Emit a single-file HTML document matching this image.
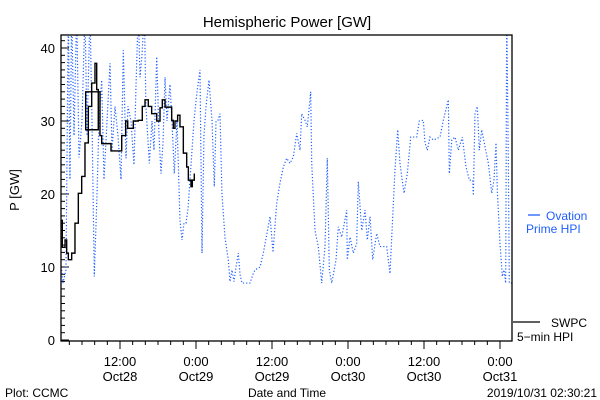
<!DOCTYPE html>
<html><head><meta charset="utf-8"><style>
body{margin:0;background:#fff;}
svg{display:block;font-family:"Liberation Sans",sans-serif;}
</style></head><body>
<svg id="chart" width="600" height="400" viewBox="0 0 600 400">
<rect x="0" y="0" width="600" height="400" fill="#fff"/>
<text x="287" y="27" font-size="15" text-anchor="middle">Hemispheric Power [GW]</text>
<text transform="translate(19,190) rotate(-90)" font-size="13" text-anchor="middle">P [GW]</text>
<text x="5" y="397" font-size="12">Plot: CCMC</text>
<text x="287" y="397" font-size="12" text-anchor="middle">Date and Time</text>
<text x="597" y="397" font-size="12" text-anchor="end">2019/10/31 02:30:21</text>
<defs><clipPath id="pc"><rect x="61" y="35" width="451" height="306"/></clipPath></defs>
<g id="axes"></g>
<g id="series" clip-path="url(#pc)"></g>
<rect x="61" y="35" width="451" height="306" fill="none" stroke="#000" stroke-width="1.3"/>
<g>
<line x1="528" y1="215" x2="540" y2="215" stroke="#2060ff" stroke-width="1.3"/>
<text x="546" y="220" font-size="12" fill="#2060ff">Ovation</text>
<text x="526" y="233" font-size="12" fill="#2060ff">Prime HPI</text>
</g>
<g>
<line x1="513" y1="322" x2="540" y2="322" stroke="#000" stroke-width="1.3"/>
<text x="551" y="327" font-size="12">SWPC</text>
<text x="517" y="341" font-size="12">5−min HPI</text>
</g>
</svg>
<script>
const yTicks=[0,10,20,30,40];
const xTickHours=[12,24,36,48,60,72];
const xTickTimes=["12:00","0:00","12:00","0:00","12:00","0:00"];
const xTickDates=["Oct28","Oct29","Oct29","Oct30","Oct30","Oct31"];
const ovationHours=[2.79,3.0,3.47,3.84,4.1,4.37,4.74,5.16,5.53,6.0,6.47,6.79,7.26,7.58,7.94,8.37,8.68,9.11,9.47,9.95,10.42,10.74,11.21,11.68,12.16,12.52,12.95,13.26,13.74,14.21,14.53,14.89,15.16,15.47,15.84,16.1,16.63,17.05,17.37,17.8,18.16,18.47,18.79,19.11,19.42,19.89,20.21,20.57,21.0,21.47,21.79,22.1,22.42,22.74,23.05,23.37,23.68,24.16,24.63,24.95,25.26,25.58,26.05,26.53,26.89,27.16,27.47,27.79,28.1,28.58,29.1,29.37,29.68,30.0,30.32,30.68,30.95,31.26,31.74,32.53,33.0,33.32,34.11,34.63,35.69,36.16,36.74,37.26,37.79,38.32,38.84,39.37,39.9,40.42,40.69,41.21,41.58,42.11,42.27,42.79,43.31,43.85,44.37,44.73,45.05,45.43,46.11,46.47,47.01,47.8,47.89,48.32,48.84,49.37,49.63,50.17,50.69,51.05,51.48,51.9,52.53,53.05,54.11,54.63,55.06,55.42,55.85,56.21,56.84,57.37,57.9,58.85,59.26,59.89,60.16,60.52,60.95,61.47,62.53,63.05,63.84,64.0,64.38,64.9,65.42,66.05,66.63,67.16,67.69,67.79,68.05,68.42,68.73,69.11,69.63,70.16,70.69,71.05,71.37,71.58,72.0,72.37,72.63,72.9,73.06,73.32,73.47,73.9];
const ovationValues=[9.6,7.8,9.6,45,22,45,28,45,25,30,45,28,45,30,8.7,20,30,35.6,22,30,37.9,26,32,28,22,39.7,24.9,32,30,24,35,45,36,39,45,32,24.2,30,26,38.8,28,22.8,27,36,30,35,30,22.8,30,16.4,13.7,16,16,18,22,26,30,34,37,11.9,28,32,35.6,30,21,30,30.1,31,20,14,11,8,9.6,8,10,11.9,9,7.8,7.8,7.8,9,9.6,10,11.9,16.9,12,18.7,21.5,23.7,24.9,24.2,25.1,28.3,26,31,30.1,29.2,34,24.2,15,12.8,7.8,12.8,24.9,9.6,7.8,11,15.5,14.1,17.8,11,14.1,11.9,13.2,21.7,15,17.8,13.7,16.9,11,14.6,12.8,12.8,9.1,16.9,23.3,28.8,24.2,20.1,22.8,27.8,27.8,30,30.1,27,26,27.8,27.4,27.8,30.1,32.9,22.8,27.4,27.8,26,27.8,23.7,21.9,21.9,19.8,31,32,26,28.8,26.5,24.2,20.1,21.9,27,20.5,13.2,8.7,9.6,7.8,45,24.2,7.8,7.8];
const swpcHours=[2.64,2.89,3.32,3.58,3.84,4.37,4.89,5.42,5.95,6.47,7.0,7.53,8.05,8.32,8.57,6.58,8.84,9.11,10.42,10.58,11.73,12.27,12.9,13.22,14.1,14.89,15.52,15.95,16.47,17.0,17.53,17.8,18.32,18.68,19.11,19.89,20.16,20.42,20.68,21.1,21.47,22.0,22.53,22.79,23.21,23.42,23.73];
const swpcValues=[16.4,12.7,13.7,11.9,11,11.9,16,20.1,22.4,27,32,35.2,37.9,34.3,28.8,34,28,26.9,26.9,25.9,25.9,28,30,29,30,30.1,32,32.9,32,31,31,30,31.8,32.9,31.9,31.9,30.1,29,30,30.8,29.2,25.6,23.7,21.9,21,21.9,22.8];

const NS='http://www.w3.org/2000/svg';
const X0=61,X1=512,Y0=340,PXU=7.3;
const xs=h=>120+(h-12)*76/12;
const ys=v=>Y0-v*PXU;
const axes=document.getElementById('axes');
const series=document.getElementById('series');
function mk(tag,attrs,parent){const e=document.createElementNS(NS,tag);for(const k in attrs)e.setAttribute(k,attrs[k]);parent.appendChild(e);return e;}
for(let v=0;v<=41;v++){
  const t=mk('line',{x1:X0,x2:X0+(v%10===0?8:4),y1:ys(v),y2:ys(v),stroke:'#000','stroke-width':1},axes);
  
  
}
yTicks.forEach(v=>{
  const t=mk('text',{x:X0-6,y:ys(v)+5,'font-size':13,'text-anchor':'end'},axes);
  t.textContent=v;
  
  
});
for(let h=4;h<=74;h+=2){
  const x=xs(h); if(x<X0||x>X1)continue;
  const t=mk('line',{x1:x,x2:x,y1:341,y2:341+(h%12===0?8:4),stroke:'#000','stroke-width':1},axes);
  
  
}
xTickHours.forEach((h,i)=>{
  const a=mk('text',{x:xs(h),y:366,'font-size':13,'text-anchor':'middle'},axes);
  a.textContent=xTickTimes[i];
  
  
  const b=mk('text',{x:xs(h),y:381,'font-size':13,'text-anchor':'middle'},axes);
  b.textContent=xTickDates[i];
  
  
});
const pb=mk('polyline',{points:ovationHours.map((h,i)=>xs(h)+','+ys(ovationValues[i])).join(' '),fill:'none',stroke:'#2060ff','stroke-width':1.2,'stroke-dasharray':'1.2,2'},series);


let pts=[];
swpcHours.forEach((h,i)=>{
  if(i>0) pts.push(xs(h)+','+ys(swpcValues[i-1]));
  pts.push(xs(h)+','+ys(swpcValues[i]));
});
const pk=mk('polyline',{points:pts.join(' '),fill:'none',stroke:'#000','stroke-width':1.4},series);


</script>
</body></html>
